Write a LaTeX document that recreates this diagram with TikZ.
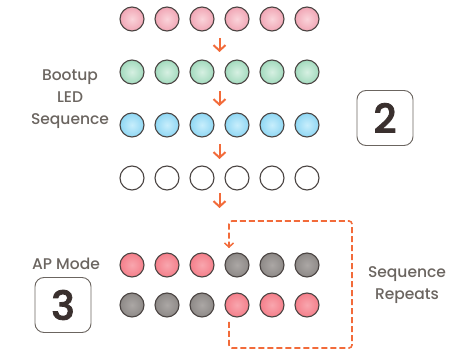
\documentclass[tikz,border=0pt]{standalone}
\usepackage{fontspec}
\setmainfont{Poppins}[BoldFont={Poppins Medium}]
\usetikzlibrary{arrows.meta}
\definecolor{lbl}{HTML}{6B6560}
\definecolor{dig}{HTML}{3A302E}
\definecolor{org}{HTML}{F26B3A}
\definecolor{rim}{HTML}{4A4442}
\definecolor{pkI}{HTML}{FAD4DA}\definecolor{pkO}{HTML}{DE4E6E}
\definecolor{gnI}{HTML}{D6F0E2}\definecolor{gnO}{HTML}{40B078}
\definecolor{blI}{HTML}{C8EEFC}\definecolor{blO}{HTML}{22AAE2}
\definecolor{rdI}{HTML}{F8A6AE}\definecolor{rdO}{HTML}{EC3446}
\definecolor{gyI}{HTML}{ABA7A5}\definecolor{gyO}{HTML}{55504D}
\pgfdeclareradialshading{pkS}{\pgfpoint{0bp}{0bp}}{color(0bp)=(pkI); color(22bp)=(pkI!70!pkO); color(50bp)=(pkO)}
\pgfdeclareradialshading{gnS}{\pgfpoint{0bp}{0bp}}{color(0bp)=(gnI); color(22bp)=(gnI!70!gnO); color(50bp)=(gnO)}
\pgfdeclareradialshading{blS}{\pgfpoint{0bp}{0bp}}{color(0bp)=(blI); color(22bp)=(blI!70!blO); color(50bp)=(blO)}
\pgfdeclareradialshading{rdS}{\pgfpoint{0bp}{0bp}}{color(0bp)=(rdI); color(22bp)=(rdI!70!rdO); color(50bp)=(rdO)}
\pgfdeclareradialshading{gyS}{\pgfpoint{0bp}{0bp}}{color(0bp)=(gyI); color(22bp)=(gyI!70!gyO); color(50bp)=(gyO)}
\tikzset{
  led/.style={circle, draw=rim, line width=1.1pt, minimum size=24pt, inner sep=0pt},
  pk/.style={led, shading=pkS},
  gn/.style={led, shading=gnS},
  bl/.style={led, shading=blS},
  rd/.style={led, shading=rdS},
  gy/.style={led, shading=gyS},
  wt/.style={led, fill=white},
  lab/.style={text=lbl, font=\bfseries\fontsize{15.5}{22}\selectfont, align=center},
  numbox/.style={draw=lbl, line width=0.9pt, rounded corners=9pt, minimum width=56pt, minimum height=55pt, text=dig, font=\fontsize{40}{40}\selectfont\addfontfeature{FakeBold=2}, inner sep=0pt},
  stepar/.style={draw=org, line width=2pt, -{Straight Barb[length=5.5pt,width=12pt]}},
  loopline/.style={draw=org, line width=1.6pt, dash pattern=on 6pt off 3pt, rounded corners=3pt}
}
\begin{document}
\begin{tikzpicture}[x=1pt,y=-1pt]
\useasboundingbox (0,0) rectangle (464,350);
\foreach \i/\x in {1/132,2/167,3/202,4/237,5/272,6/307}{
  \node[pk] (a\i) at (\x,19) {};
  \node[gn] (b\i) at (\x,72) {};
  \node[bl] (c\i) at (\x,125) {};
  \node[wt] (d\i) at (\x,178) {};
}
\foreach \i/\x in {1/132,2/167,3/202}{
  \node[rd] (e\i) at (\x,265) {};
  \node[gy] (f\i) at (\x,305) {};
}
\foreach \i/\x in {4/237,5/272,6/307}{
  \node[gy] (e\i) at (\x,265) {};
  \node[rd] (f\i) at (\x,305) {};
}
\coordinate (s1) at (219.5,38); \coordinate (t1) at (219.5,52);
\coordinate (s2) at (219.5,91); \coordinate (t2) at (219.5,106);
\coordinate (s3) at (219.5,144); \coordinate (t3) at (219.5,159);
\coordinate (s4) at (219.5,193); \coordinate (t4) at (219.5,208);
\draw[stepar] (s1) -- (t1);
\draw[stepar] (s2) -- (t2);
\draw[stepar] (s3) -- (t3);
\draw[stepar] (s4) -- (t4);
\node[lab] (boot) at (70,99) {Bootup\\LED\\Sequence};
\node[numbox] (two) at (385,118) {\bfseries 2};
\node[lab] (ap) at (66,264) {AP Mode};
\node[numbox] (three) at (63,305) {\bfseries 3};
\node[lab] (rep) at (407,285) {Sequence\\Repeats};
\coordinate (l0) at (229,322);
\coordinate (l1) at (229,348);
\coordinate (l2) at (352,348);
\coordinate (l3) at (352,221);
\coordinate (l4) at (229,221);
\coordinate (l5) at (229,248);
\draw[loopline] (l0) -- (l1) -- (l2) -- (l3) -- (l4) -- (l5);
\draw[draw=org, line width=1.5pt, -{Straight Barb[length=4pt,width=9pt]}] (229,244) -- (l5);
\end{tikzpicture}
\end{document}
